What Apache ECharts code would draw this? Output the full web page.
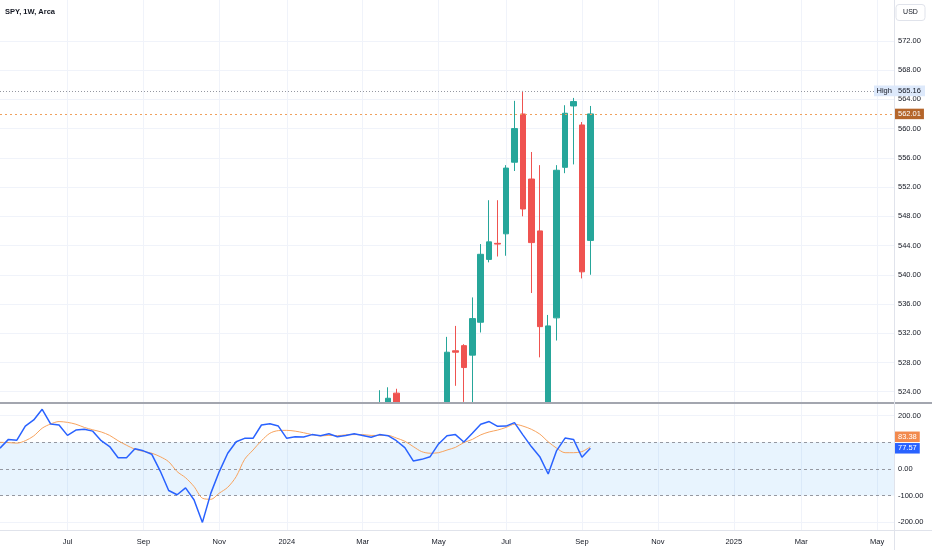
<!DOCTYPE html>
<html><head><meta charset="utf-8">
<script src="https://cdn.jsdelivr.net/npm/echarts@6/dist/echarts.min.js"></script>
<style>html,body{margin:0;padding:0;background:#fff}#c{width:932px;height:550px}</style>
</head><body><div id="c"></div>
<script>
// ---- data ----
const categories = [
'2023-05-08','2023-05-15','2023-05-22','2023-05-29','2023-06-05','2023-06-12','2023-06-19','2023-06-26',
'2023-07-03','2023-07-10','2023-07-17','2023-07-24','2023-07-31','2023-08-07','2023-08-14','2023-08-21','2023-08-28',
'2023-09-04','2023-09-11','2023-09-18','2023-09-25','2023-10-02','2023-10-09','2023-10-16','2023-10-23','2023-10-30',
'2023-11-06','2023-11-13','2023-11-20','2023-11-27','2023-12-04','2023-12-11','2023-12-18','2023-12-25',
'2024-01-01','2024-01-08','2024-01-15','2024-01-22','2024-01-29','2024-02-05','2024-02-12','2024-02-19','2024-02-26',
'2024-03-04','2024-03-11','2024-03-18','2024-03-25','2024-04-01','2024-04-08','2024-04-15','2024-04-22','2024-04-29',
'2024-05-06','2024-05-13','2024-05-20','2024-05-27','2024-06-03','2024-06-10','2024-06-17','2024-06-24',
'2024-07-01','2024-07-08','2024-07-15','2024-07-22','2024-07-29','2024-08-05','2024-08-12','2024-08-19','2024-08-26',
'2024-09-02','2024-09-09','2024-09-16','2024-09-23','2024-09-30','2024-10-07','2024-10-14','2024-10-21','2024-10-28',
'2024-11-04','2024-11-11','2024-11-18','2024-11-25','2024-12-02','2024-12-09','2024-12-16','2024-12-23','2024-12-30',
'2025-01-06','2025-01-13','2025-01-20','2025-01-27','2025-02-03','2025-02-10','2025-02-17','2025-02-24',
'2025-03-03','2025-03-10','2025-03-17','2025-03-24','2025-03-31','2025-04-07','2025-04-14','2025-04-21','2025-04-28',
'2025-05-05','2025-05-12','2025-05-19'
];
const candleDates = ['2024-03-18','2024-03-25','2024-04-01','2024-04-08','2024-04-15','2024-04-22','2024-04-29','2024-05-06','2024-05-13','2024-05-20','2024-05-27','2024-06-03','2024-06-10','2024-06-17','2024-06-24','2024-07-01','2024-07-08','2024-07-15','2024-07-22','2024-07-29','2024-08-05','2024-08-12','2024-08-19','2024-08-26','2024-09-02','2024-09-09'];
const opens  = [514.0,521.2,523.8,520.5,515.1,497.0,509.6,513.8,522.6,529.6,530.3,529.0,533.5,542.1,544.3,545.6,555.4,562.0,553.1,546.0,511.6,534.1,554.7,563.1,560.5,544.7];
const closes = [521.2,523.1,518.4,510.9,495.2,508.3,511.3,520.8,529.4,529.4,527.3,534.0,542.8,544.5,544.2,554.6,560.0,549.0,544.4,532.9,533.0,554.3,562.1,563.7,540.4,562.01];
const lows   = [511.1,520.0,509.9,508.7,493.9,495.3,499.9,512.4,520.9,524.8,522.6,522.3,532.1,541.7,542.5,542.6,554.2,548.0,537.5,528.7,510.3,531.0,553.9,555.1,539.5,540.0];
const highs  = [524.2,524.6,524.4,519.5,515.3,509.9,513.5,521.0,531.5,533.0,530.5,536.9,544.2,550.2,550.2,555.0,563.8,565.16,556.8,555.0,534.5,555.0,563.2,564.2,560.9,563.1];
// CCI (from 2023-05-08 to 2024-09-09)
const cci = [78,111,108,161,184,224,169,165,126,146,149,142,106,84,42,42,76,68,55,-8,-81,-97,-71,-116,-201,-91,-10,59,102,115,115,165,170,161,115,121,120,129,125,132,121,126,132,126,119,129,125,106,80,30,36,46,94,125,129,101,134,168,178,160,161,174,128,84,46,-19,69,116,111,44,77.57];
const cciMA = [100,99,97,106,124,153,169,178,175,168,156,147,139,126,106,89,74,66,59,46,27,-10,-33,-66,-110,-114,-91,-69,-29,36,71,106,134,144,145,142,136,129,124,126,125,128,129,129,126,126,126,116,104,84,65,59,61,71,81,99,111,128,139,146,156,168,161,149,131,102,78,61,61,65,83.38];
const priceTicks = [524,528,532,536,540,544,548,552,556,560,564,568,572];
const cciLabelTicks = [200,0,-100,-200];
const cciGridTicks = [200,-200];
const cciBands = [100,0,-100];
const monthNames = ['Jan','Feb','Mar','Apr','May','Jun','Jul','Aug','Sep','Oct','Nov','Dec'];

// ---- chart ----
const FONT = '"Liberation Sans", Arial, sans-serif';
const TXT = '#131722';
function isLabelIdx(i) {
  if (i <= 0) return false;
  const m = categories[i].slice(5,7), pm = categories[i-1].slice(5,7);
  return m !== pm && (+m) % 2 === 1;
}
function fmtCat(v) {
  const m = +v.slice(5,7);
  return m === 1 ? v.slice(0,4) : monthNames[m-1];
}
const candleData = categories.map(d => {
  const j = candleDates.indexOf(d);
  return j < 0 ? '-' : [opens[j], closes[j], lows[j], highs[j]];
});
const cciData = categories.map((d,i) => i < cci.length ? cci[i] : '-');
const maData = categories.map((d,i) => i < cciMA.length ? cciMA[i] : '-');
const maxHigh = Math.max.apply(null, highs);
const lastClose = closes[closes.length-1];
const lastCci = cci[cci.length-1];
const lastMa = cciMA[cciMA.length-1];

const chart = echarts.init(document.getElementById('c'), null, {renderer:'canvas'});
const option = {
  animation: false,
  backgroundColor: '#ffffff',
  title: {text: 'SPY, 1W, Arca', left: 5, top: 8, padding: 0, textStyle: {fontSize: 7.5, fontWeight: 'bold', color: TXT, fontFamily: FONT}},
  grid: [
    {left: 0, right: 38, top: 0, height: 403},
    {left: 0, right: 38, top: 404, height: 126}
  ],
  xAxis: [
    {type:'category', gridIndex:0, data: categories, boundaryGap:false,
     axisLine:{show:false}, axisTick:{show:false}, axisLabel:{show:false},
     splitLine:{show:true, interval:(i)=>isLabelIdx(i), lineStyle:{color:'#f0f3fa', width:1}}},
    {type:'category', gridIndex:1, zlevel:1, data: categories, boundaryGap:false,
     axisLine:{show:false}, axisTick:{show:false},
     axisLabel:{interval:(i)=>isLabelIdx(i), formatter: fmtCat, fontSize:7.5, color:TXT, fontFamily:FONT, margin:8},
     splitLine:{show:true, interval:(i)=>isLabelIdx(i), lineStyle:{color:'#f0f3fa', width:1}}}
  ],
  yAxis: [
    {type:'value', gridIndex:0, position:'right', min:522.45, max:577.6, scale:true,
     axisLine:{show:false}, axisTick:{show:false, customValues: priceTicks},
     axisLabel:{customValues: priceTicks, formatter:(v)=>v.toFixed(2), fontSize:7.5, color:TXT, fontFamily:FONT, margin:4},
     splitLine:{show:true, lineStyle:{color:'#f0f3fa', width:1}}},
    {type:'value', gridIndex:1, zlevel:1, position:'right', min:-229.5, max:244,
     axisLine:{show:false}, axisTick:{show:false, customValues: cciGridTicks},
     axisLabel:{customValues: cciLabelTicks, formatter:(v)=>v.toFixed(2), fontSize:7.5, color:TXT, fontFamily:FONT, margin:4},
     splitLine:{show:true, lineStyle:{color:'#f0f3fa', width:1}}}
  ],
  series: [
    {type:'candlestick', xAxisIndex:0, yAxisIndex:0, data: candleData, barWidth:6, clip:true,
     itemStyle:{color:'#26a69a', color0:'#ef5350', borderColor:'#26a69a', borderColor0:'#ef5350', borderWidth:1},
     markLine:{silent:true, symbol:['none','none'], label:{show:false}, animation:false,
       data:[
         {yAxis: maxHigh, lineStyle:{color:'#9598a1', type:[1,2], width:1}},
         {yAxis: lastClose, lineStyle:{color:'#f0a05c', type:[2,3], width:1}}
       ]}},
    {type:'line', xAxisIndex:1, yAxisIndex:1, zlevel:1, data: cciData, symbol:'none', z:4,
     lineStyle:{color:'#2962ff', width:1.5}, itemStyle:{color:'#2962ff'},
     markArea:{zlevel:1, z:1, silent:true, itemStyle:{color:'rgba(33,150,243,0.1)'}, data:[[{yAxis:cciBands[0]},{yAxis:cciBands[2]}]]},
     markLine:{zlevel:1, z:2, silent:true, symbol:['none','none'], label:{show:false}, animation:false,
       lineStyle:{color:'#9598a1', type:[3,3], width:1},
       data: cciBands.map(v => ({yAxis: v}))}},
    {type:'line', xAxisIndex:1, yAxisIndex:1, zlevel:1, data: maData, symbol:'none', smooth:0.3, z:3,
     lineStyle:{color:'#f7a35e', width:1}, itemStyle:{color:'#f7a35e'}}
  ]
};
chart.setOption(option);

// value labels on the price scale, positioned through the axes
const yHigh = chart.convertToPixel({yAxisIndex:0}, maxHigh);
const yClose = chart.convertToPixel({yAxisIndex:0}, lastClose);
const yCci = chart.convertToPixel({yAxisIndex:1}, lastCci);
const yMa = chart.convertToPixel({yAxisIndex:1}, lastMa);
const boxH = 10;
const yMaLbl = Math.min(yMa, yCci - boxH - 1.5);
const f = '7.5px ' + FONT;
function valBox(y, text, bg, fg) {
  return {type:'text', zlevel:1, x:895, y:y, z:100, style:{text:text, font:f, fill:fg, backgroundColor:bg, padding:[1.5,3,1,3], align:'left', verticalAlign:'middle'}};
}
chart.setOption({graphic:{elements:[
  // indicator pane background (keeps the price pane's candles clipped at the pane border)
  {type:'rect', zlevel:1, z:-10, silent:true, shape:{x:0, y:403, width:932, height:147}, style:{fill:'#ffffff'}},
  {type:'line', zlevel:1, z:90, shape:{x1:0,y1:403,x2:932,y2:403}, style:{stroke:'#a3a6af', lineWidth:2}},
  {type:'line', zlevel:1, z:90, shape:{x1:0,y1:530.5,x2:932,y2:530.5}, style:{stroke:'#e0e3eb', lineWidth:1}},
  {type:'line', zlevel:1, z:90, shape:{x1:894.5,y1:0,x2:894.5,y2:550}, style:{stroke:'#e0e3eb', lineWidth:1}},
  {type:'rect', zlevel:1, z:90, shape:{x:896, y:4.5, width:29, height:16, r:3}, style:{fill:'#fff', stroke:'#e0e3eb', lineWidth:1}},
  {type:'text', zlevel:1, z:91, x:910.5, y:12.5, style:{text:'USD', font:'7px '+FONT, fill:TXT, align:'center', verticalAlign:'middle'}},
  {type:'rect', zlevel:1, z:99, shape:{x:874, y:yHigh-5.3, width:51, height:10.6}, style:{fill:'#dde9fb'}},
  {type:'text', zlevel:1, z:100, x:876.5, y:yHigh, style:{text:'High', font:f, fill:TXT, align:'left', verticalAlign:'middle'}},
  {type:'text', zlevel:1, z:100, x:898, y:yHigh, style:{text:maxHigh.toFixed(2), font:f, fill:TXT, align:'left', verticalAlign:'middle'}},
  valBox(yClose, lastClose.toFixed(2), '#b5652a', '#ffffff'),
  valBox(yMaLbl, lastMa.toFixed(2), '#f28a4e', '#ffffff'),
  valBox(yCci, lastCci.toFixed(2), '#2962ff', '#ffffff')
]}});
</script>
</body></html>
